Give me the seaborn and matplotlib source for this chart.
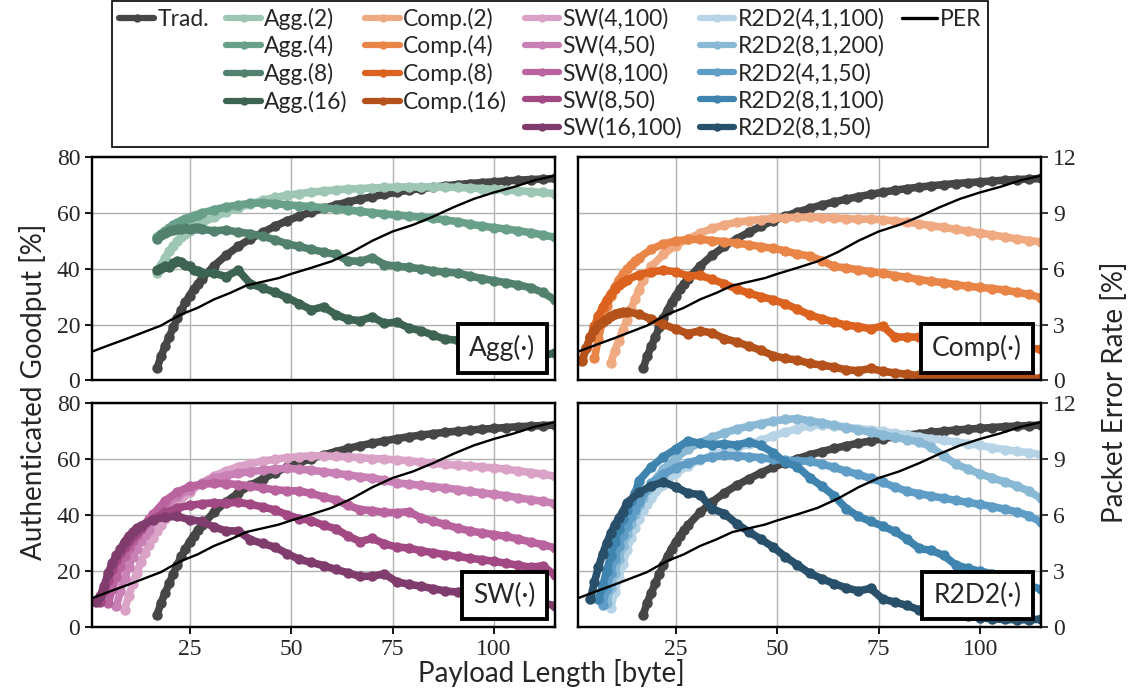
import numpy as np
import pandas as pd
import matplotlib
matplotlib.use("Agg")
import matplotlib.pyplot as plt
from matplotlib.lines import Line2D
import seaborn as sns

# ---------------------------------------------------------------------------
# Data: authenticated goodput [%] over payload length [byte].
# Each curve: first payload length, 1-byte samples (head), then 3-byte
# samples ending at 115 bytes (tail).
# ---------------------------------------------------------------------------
END, STEP = 115, 3

trad_start = 17
trad_head = [4.3, 8.7, 12.2, 15.6, 19.0, 22.3, 25.3, 28.0, 30.4, 32.6, 34.6]
trad_tail = [36.4, 41.0, 44.8, 48.0, 50.7, 53.0, 55.2, 57.2, 58.8, 60.3, 61.6, 62.8,
             63.9, 64.9, 65.8, 66.6, 67.4, 68.1, 68.7, 69.2, 69.7, 70.1, 70.5, 70.8,
             71.1, 71.4, 71.7, 71.9, 72.1, 72.3]

agg_labels = ["Agg.(2)", "Agg.(4)", "Agg.(8)", "Agg.(16)"]
agg_start = [17, 17, 17, 17]
agg_head = [
    [38.5, 41.5, 44.0, 46.3, 48.2, 49.8, 51.2, 52.5, 53.6, 54.6, 55.5],
    [51.5, 52.6, 53.6, 54.5, 55.6, 56.3, 57.0, 57.7, 58.3, 58.9, 59.4],
    [50.8, 52.0, 52.8, 53.4, 53.9, 54.1, 54.3, 54.6, 54.2, 54.4, 54.5],
    [39.5, 40.3, 41.0, 40.6, 42.0, 42.6, 42.3, 41.2, 40.8, 39.7, 39.2],
]
agg_tail = [
    [56.3, 58.4, 60.2, 61.8, 63.2, 64.5, 65.5, 66.3, 66.9, 67.4, 67.8, 68.2, 68.5,
     68.7, 68.9, 69.1, 69.2, 69.3, 69.2, 69.4, 69.2, 69.1, 68.9, 68.7, 68.4, 68.2,
     67.9, 67.6, 67.3, 66.9],
    [59.9, 61.1, 62.1, 62.8, 63.4, 63.6, 63.3, 62.9, 62.5, 62.3, 61.8, 61.4, 61.1,
     60.5, 60.1, 59.6, 59.2, 58.9, 58.4, 58.1, 57.4, 56.9, 56.0, 55.3, 54.7, 54.2,
     53.6, 52.9, 52.1, 51.2],
    [54.2, 53.5, 53.9, 53.1, 52.6, 51.6, 50.4, 48.9, 48.0, 46.9, 46.0, 45.1, 42.9,
     42.6, 44.0, 41.5, 40.9, 40.5, 40.0, 39.2, 38.8, 38.5, 37.4, 36.5, 35.7, 35.0,
     34.2, 33.2, 31.5, 28.8],
    [38.6, 38.4, 37.2, 39.5, 34.6, 33.1, 31.6, 29.7, 27.5, 25.3, 26.4, 23.6, 21.9,
     21.4, 22.8, 20.4, 20.9, 18.8, 17.8, 16.2, 14.8, 14.4, 13.9, 12.6, 11.8, 11.1,
     9.5, 8.4, 8.7, 10.0],
]

comp_labels = ["Comp.(2)", "Comp.(4)", "Comp.(8)", "Comp.(16)"]
comp_start = [9, 5, 2, 2]
comp_head = [
    [6.3, 10.5, 14.3, 18.0, 21.8, 25.5, 29.0, 32.5, 35.8, 38.5],
    [8.0, 15.0, 21.5, 26.5, 30.3, 33.5, 36.0, 38.0, 39.8, 41.3, 42.6],
    [7.5, 11.8, 15.6, 19.5, 23.2, 26.2, 28.8, 31.0, 32.8, 34.3, 35.4],
    [6.9, 11.5, 15.5, 18.0, 19.8, 21.0, 22.0, 23.0, 23.8, 24.3, 24.5],
]
comp_tail = [
    [40.8, 45.2, 48.3, 50.6, 52.7, 54.4, 55.7, 56.6, 57.2, 57.6, 58.0, 58.3, 58.4,
     58.5, 58.3, 58.2, 57.9, 57.7, 57.8, 57.5, 57.1, 56.6, 56.1, 55.4, 54.8, 54.1,
     53.5, 52.8, 52.1, 51.4, 50.7, 50.1, 49.6],
    [43.9, 47.0, 48.9, 49.9, 50.5, 50.5, 50.1, 49.7, 49.2, 48.6, 47.9, 47.3, 46.4,
     45.2, 44.6, 42.9, 40.8, 40.3, 39.6, 39.0, 38.4, 37.5, 36.9, 36.1, 35.5, 35.0,
     34.3, 33.7, 33.3, 32.9, 32.4, 31.6, 30.8, 29.6],
    [36.0, 37.9, 38.8, 39.5, 38.9, 37.4, 37.6, 36.2, 34.6, 32.7, 31.3, 30.0, 28.9,
     27.4, 25.5, 23.5, 22.1, 20.9, 19.8, 19.3, 18.5, 19.5, 15.5, 15.6, 15.5, 14.8,
     14.5, 13.8, 13.3, 12.9, 12.5, 12.2, 11.9, 11.5, 11.2],
    [24.6, 23.7, 22.0, 20.1, 18.4, 16.8, 17.8, 17.0, 15.0, 13.8, 12.3, 10.8, 8.9,
     7.9, 7.3, 6.1, 5.5, 4.8, 3.8, 3.5, 4.3, 3.3, 2.7, 2.2, 1.8, 1.4, 1.2, 1.1,
     1.0, 0.9, 0.9, 0.8, 0.8, 0.8, 0.8],
]

sw_labels = ["SW(4,100)", "SW(4,50)", "SW(8,100)", "SW(8,50)", "SW(16,100)"]
sw_start = [9, 7, 5, 3, 2]
sw_head = [
    [6.2, 11.0, 15.5, 19.5, 23.3, 26.5, 29.4, 31.9, 34.3, 36.6],
    [7.4, 13.0, 17.5, 21.5, 25.0, 28.0, 30.7, 32.8, 34.6],
    [8.5, 13.5, 18.0, 21.8, 25.4, 28.4, 30.8, 33.0, 35.0, 36.8, 38.6],
    [9.0, 13.0, 17.0, 20.8, 24.0, 26.6, 28.8, 30.8, 32.6, 34.1],
    [9.0, 11.2, 14.8, 19.5, 23.0, 25.6, 28.0, 30.6, 32.5, 34.1, 35.4],
]
sw_tail = [
    [38.8, 43.8, 48.3, 51.6, 54.0, 55.9, 57.4, 58.5, 59.4, 60.0, 60.6, 61.0, 61.3,
     61.2, 61.1, 60.9, 60.6, 60.3, 60.1, 59.8, 59.5, 59.0, 58.6, 58.2, 57.9, 57.6,
     57.3, 56.9, 56.5, 55.9, 55.3, 54.7, 54.0],
    [37.8, 43.3, 46.8, 49.2, 51.3, 53.2, 54.2, 55.0, 55.6, 56.1, 56.5, 56.8, 56.5,
     56.1, 55.6, 55.0, 54.5, 53.8, 53.4, 52.5, 51.5, 51.2, 50.7, 50.2, 49.8, 49.2,
     48.6, 48.0, 47.5, 47.0, 46.2, 45.6, 45.0, 44.2],
    [40.3, 45.2, 48.3, 50.3, 51.1, 51.4, 51.3, 51.0, 50.5, 49.8, 49.1, 48.8, 48.7,
     47.8, 46.6, 45.5, 43.6, 42.0, 41.7, 41.0, 40.9, 41.3, 39.1, 37.9, 36.7, 35.4,
     34.4, 33.7, 33.1, 32.4, 31.5, 30.4, 29.5, 28.3],
    [35.5, 38.7, 41.0, 42.6, 43.5, 44.1, 44.5, 44.3, 44.7, 43.9, 43.0, 41.9, 40.2,
     38.8, 38.1, 36.4, 35.2, 32.6, 30.6, 31.7, 29.8, 28.6, 28.3, 27.3, 26.6, 25.9,
     25.3, 24.6, 24.1, 23.5, 22.8, 22.1, 21.4, 21.9, 18.5],
    [36.2, 38.4, 39.3, 39.6, 38.4, 37.8, 35.8, 34.4, 34.4, 31.2, 29.9, 28.6, 26.3,
     24.2, 23.1, 22.0, 20.6, 19.4, 18.1, 18.2, 19.0, 16.2, 15.3, 14.6, 13.7, 12.9,
     12.5, 11.7, 11.3, 10.8, 10.3, 9.8, 9.2, 8.6, 7.6],
]

r2_labels = ["R2D2(4,1,100)", "R2D2(8,1,200)", "R2D2(4,1,50)", "R2D2(8,1,100)",
             "R2D2(8,1,50)"]
r2_start = [9, 8, 7, 6, 4]
r2_head = [
    [6.8, 12.5, 17.5, 22.5, 27.5, 32.0, 35.5, 38.8, 41.5, 44.0],
    [8.5, 14.0, 19.5, 24.5, 29.0, 33.2, 37.0, 40.5, 43.5, 46.3, 49.0],
    [7.8, 13.5, 19.5, 24.5, 29.0, 33.0, 36.3, 39.3, 42.0],
    [10.2, 14.5, 20.0, 25.5, 30.5, 35.0, 38.8, 42.0, 45.0, 47.8],
    [10.0, 16.0, 21.5, 26.0, 30.0, 33.5, 36.5, 39.0, 41.2],
]
r2_tail = [
    [46.0, 50.8, 55.0, 57.6, 59.8, 61.6, 63.0, 64.1, 65.4, 66.8, 68.4, 69.8, 71.0,
     72.0, 72.3, 72.0, 71.5, 71.0, 70.6, 70.0, 69.4, 68.8, 68.1, 67.4, 66.8, 66.2,
     65.6, 65.0, 64.2, 63.5, 62.9, 62.4, 61.7],
    [51.2, 56.5, 60.5, 63.6, 66.0, 67.9, 69.5, 70.8, 71.9, 72.8, 73.7, 74.3, 74.6,
     73.8, 73.1, 72.2, 71.4, 70.6, 69.7, 68.8, 67.9, 67.1, 66.2, 64.4, 61.2, 58.3,
     56.5, 54.8, 53.3, 52.0, 50.5, 48.6, 46.0],
    [44.8, 51.5, 54.8, 57.0, 58.7, 60.0, 60.9, 61.4, 61.3, 61.0, 60.6, 60.0, 59.7,
     59.5, 59.3, 58.4, 57.1, 55.8, 54.6, 53.2, 51.8, 50.1, 48.6, 47.7, 46.9, 46.1,
     45.3, 44.6, 43.9, 43.1, 42.2, 41.2, 39.9, 37.5],
    [52.4, 57.3, 60.9, 63.7, 66.6, 65.8, 65.2, 65.6, 65.1, 66.2, 65.0, 62.4, 58.9,
     57.4, 53.5, 50.4, 47.0, 42.4, 39.6, 37.8, 36.1, 34.2, 31.4, 28.1, 27.4, 25.6,
     22.2, 21.0, 19.9, 19.1, 17.6, 16.2, 14.9, 13.5],
    [44.5, 48.2, 50.5, 51.9, 50.2, 47.9, 47.4, 42.3, 40.6, 37.0, 34.1, 31.4, 28.6,
     25.2, 22.2, 19.2, 17.3, 15.5, 14.0, 12.9, 13.8, 10.0, 8.9, 7.7, 6.1, 5.4, 5.0,
     4.6, 3.9, 3.3, 2.9, 2.7, 2.6, 2.6, 2.8],
]

# Packet error rate [%] (right axis)
per_x = [1, 5, 10, 15, 18, 20, 23, 27, 31, 35, 39, 43, 47, 50, 55, 60, 65, 70, 75,
         80, 85, 90, 95, 100, 105, 110, 115]
per_y = [1.55, 1.88, 2.28, 2.7, 2.95, 3.2, 3.55, 3.9, 4.35, 4.7, 5.1, 5.3, 5.5,
         5.72, 6.05, 6.4, 6.9, 7.5, 8.0, 8.35, 8.8, 9.3, 9.75, 10.1, 10.4, 10.75, 11.0]

# Colours
trad_color = "#464646"
agg_colors = ["#9ec6b4", "#69a08a", "#52826e", "#3d6353"]
comp_colors = ["#f0aa82", "#ea8548", "#dc6220", "#b5511a"]
sw_colors = ["#d9a2c6", "#c980b4", "#b9649e", "#a24883", "#7f3c6c"]
r2_colors = ["#b7d3e6", "#8ab9d6", "#5f9dc6", "#3f83af", "#28506a"]


def curve_frame(labels, starts, heads, tails):
    rows = []
    for lab, s, h, t in zip(labels, starts, heads, tails):
        xh = s + np.arange(len(h))
        xt = END - STEP * np.arange(len(t))[::-1]
        x = np.r_[xh, xt]
        y = np.r_[h, t]
        rows.append(pd.DataFrame({"payload": x, "goodput": y, "scheme": lab}))
    return pd.concat(rows, ignore_index=True)


trad_df = curve_frame(["Trad."], [trad_start], [trad_head], [trad_tail])
panels = [
    ("Agg(\u00b7)", curve_frame(agg_labels, agg_start, agg_head, agg_tail), agg_labels, agg_colors),
    ("Comp(\u00b7)", curve_frame(comp_labels, comp_start, comp_head, comp_tail), comp_labels, comp_colors),
    ("SW(\u00b7)", curve_frame(sw_labels, sw_start, sw_head, sw_tail), sw_labels, sw_colors),
    ("R2D2(\u00b7)", curve_frame(r2_labels, r2_start, r2_head, r2_tail), r2_labels, r2_colors),
]
per_df = pd.DataFrame({"payload": per_x, "per": per_y})

# ---------------------------------------------------------------------------
sns.set_theme(style="ticks")
plt.rcParams["font.family"] = ["Lato", "DejaVu Sans"]
plt.rcParams["axes.edgecolor"] = "black"
plt.rcParams["axes.linewidth"] = 1.6

LW, MS = 5.5, 7.5
TICKFONT = "Liberation Serif"
TICKSIZE = 17

fig, axes = plt.subplots(2, 2, figsize=(11.28, 6.90), dpi=100)
fig.subplots_adjust(left=0.0816, right=0.923, top=0.7725, bottom=0.0913,
                    wspace=0.05, hspace=0.103)

for i, (ax, (title, df, labels, colors)) in enumerate(zip(axes.flat, panels)):
    row, col = divmod(i, 2)
    ax.set_axisbelow(True)
    ax.grid(True, color="#b2b2b2", lw=1.0)
    sns.lineplot(data=trad_df, x="payload", y="goodput", color=trad_color,
                 marker="o", markersize=MS, markeredgewidth=0, linewidth=LW,
                 estimator=None, sort=False, legend=False, ax=ax)
    sns.lineplot(data=df, x="payload", y="goodput", hue="scheme",
                 hue_order=labels, palette=colors, marker="o", markersize=MS,
                 markeredgewidth=0, linewidth=LW, estimator=None, sort=False,
                 legend=False, ax=ax)
    ax.set_xlim(1, 115)
    ax.set_ylim(0, 80)
    ax.set_xticks([25, 50, 75, 100])
    ax.set_yticks([0, 20, 40, 60, 80])
    ax.set_xlabel("")
    ax.set_ylabel("")
    ax.tick_params(axis="both", direction="out", length=5, width=1.3,
                   labelsize=TICKSIZE, labelfontfamily=TICKFONT, color="black")
    if row == 0:
        ax.tick_params(axis="x", length=0, labelbottom=False)
    if col == 1:
        ax.tick_params(axis="y", length=0, labelleft=False)

    ax.text(0.958, 0.085, title, transform=ax.transAxes, ha="right", va="bottom",
            fontsize=19, zorder=20,
            bbox=dict(boxstyle="square,pad=0.42", fc="white", ec="black", lw=2.8))

    ax2 = ax.twinx()
    sns.lineplot(data=per_df, x="payload", y="per", color="black", linewidth=1.7,
                 estimator=None, sort=False, legend=False, ax=ax2)
    ax2.set_ylim(0, 12)
    ax2.set_yticks([0, 3, 6, 9, 12])
    ax2.set_xlim(1, 115)
    ax2.set_ylabel("")
    ax2.grid(False)
    ax2.tick_params(axis="y", direction="out", length=5, width=1.3,
                    labelsize=TICKSIZE, labelfontfamily=TICKFONT)
    if col == 0:
        ax2.tick_params(axis="y", length=0, labelright=False)

fig.text(0.029, 0.432, "Authenticated Goodput [%]", rotation=90, ha="center",
         va="center", fontsize=20)
fig.text(0.988, 0.432, "Packet Error Rate [%]", rotation=90, ha="center",
         va="center", fontsize=20)
fig.text(0.489, 0.024, "Payload Length [byte]", ha="center", va="center",
         fontsize=20)

# Legend: six columns of five rows, blank slots keep the families aligned
def handle(color):
    return Line2D([], [], color=color, lw=4.5, marker="o", markersize=6,
                  markeredgewidth=0)

blank = Line2D([], [], alpha=0)
handles, texts = [], []
handles += [handle(trad_color)] + [blank] * 4
texts += ["Trad."] + [""] * 4
handles += [handle(c) for c in agg_colors] + [blank]
texts += agg_labels + [""]
handles += [handle(c) for c in comp_colors] + [blank]
texts += comp_labels + [""]
handles += [handle(c) for c in sw_colors]
texts += sw_labels
handles += [handle(c) for c in r2_colors]
texts += r2_labels
handles += [Line2D([], [], color="black", lw=2.4)] + [blank] * 4
texts += ["PER"] + [""] * 4

leg = fig.legend(handles, texts, ncol=6, loc="upper center",
                 bbox_to_anchor=(0.488, 0.999), bbox_transform=fig.transFigure,
                 fontsize=16.5, handlelength=1.5, handletextpad=0.15,
                 columnspacing=0.77, labelspacing=0.25, borderpad=0.3,
                 frameon=True, fancybox=False, framealpha=1, borderaxespad=0)
leg.get_frame().set_edgecolor("black")
leg.get_frame().set_linewidth(1.2)

fig.savefig("out.png", dpi=100, facecolor="white")
